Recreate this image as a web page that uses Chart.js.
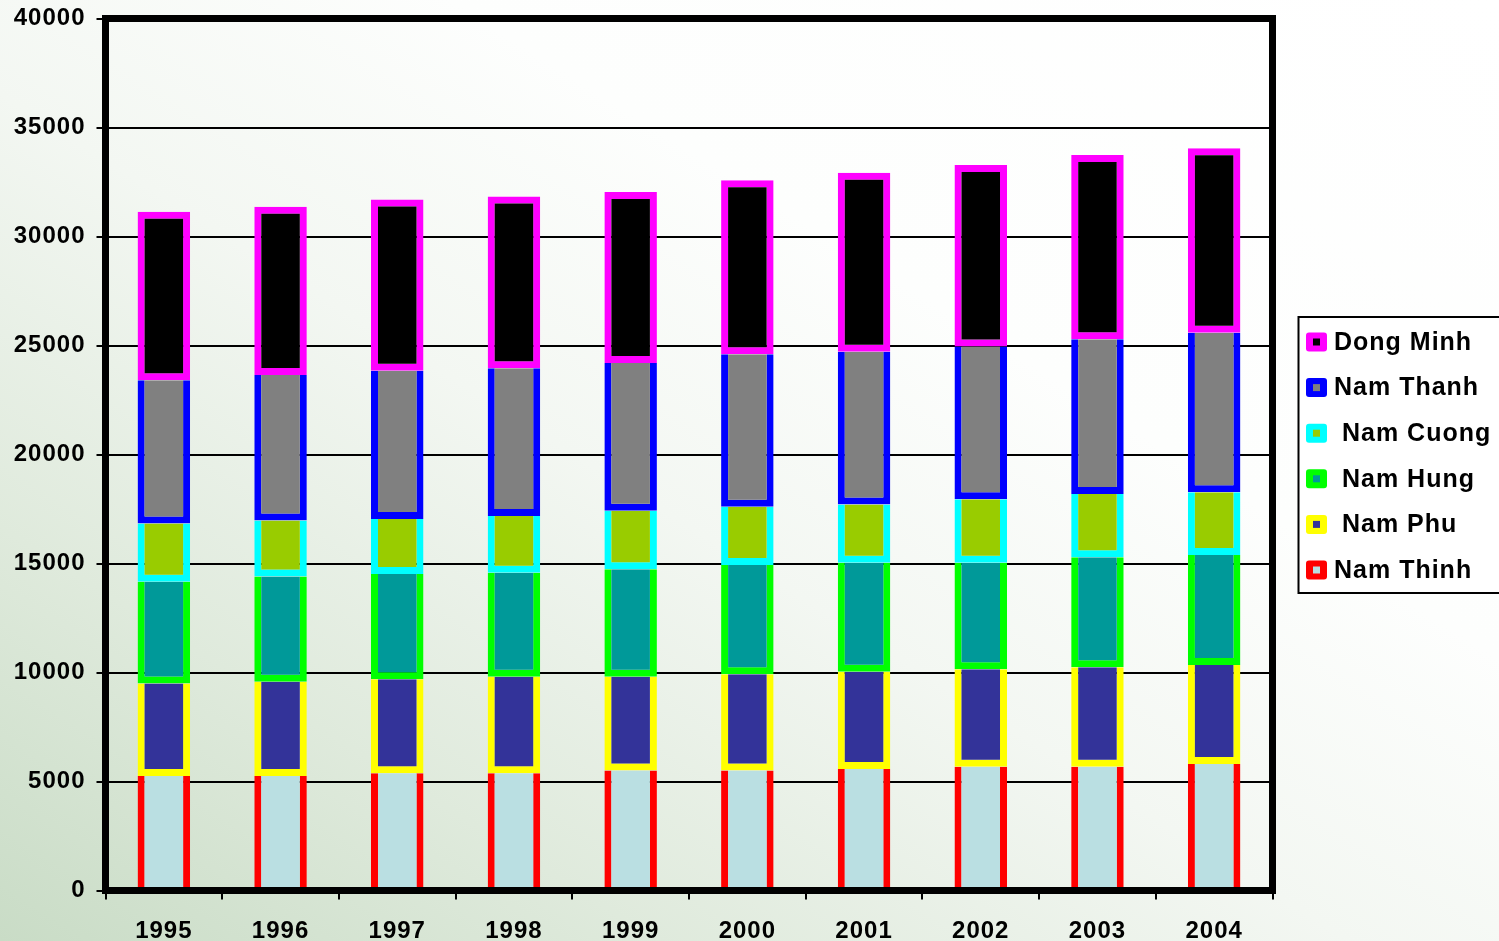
<!DOCTYPE html>
<html>
<head>
<meta charset="utf-8">
<script src="https://cdn.jsdelivr.net/npm/chart.js@4.4.1/dist/chart.umd.min.js"></script>
<style>
  html, body { margin: 0; padding: 0; }
  body {
    width: 1499px; height: 941px; overflow: hidden;
    background: linear-gradient(to top right, #c9dcc6 0%, #dfeadc 22%, #f3f7f2 45%, #fdfefd 65%, #ffffff 100%);
  }
  #wrap { position: relative; width: 1499px; height: 941px; }
</style>
</head>
<body>
<div id="wrap"><canvas id="chart" width="1499" height="941"></canvas></div>
<script>
// Years on the category axis
const years = ['1995', '1996', '1997', '1998', '1999', '2000', '2001', '2002', '2003', '2004'];

// Values per commune, stacked bottom to top
const namThinh = [5250, 5250, 5380, 5380, 5500, 5500, 5570, 5680, 5680, 5800];
const namPhu   = [4250, 4330, 4310, 4430, 4310, 4420, 4460, 4470, 4560, 4540];
const namHung  = [4660, 4820, 4830, 4770, 4930, 5010, 5000, 4890, 5050, 5050];
const namCuong = [2680, 2570, 2520, 2600, 2680, 2670, 2680, 2910, 2900, 2880];
const namThanh = [6570, 6680, 6800, 6780, 6780, 7000, 7000, 7000, 7100, 7320];
const dongMinh = [7720, 7720, 7860, 7870, 7840, 7980, 8210, 8330, 8450, 8460];

// Value axis ticks
const yTicks = [0, 5000, 10000, 15000, 20000, 25000, 30000, 35000, 40000];

const FONT = "'Liberation Sans', Arial, sans-serif";
const BW = 7;

function series(label, data, fill, edge, isTop, isBottom) {
  return {
    label: label,
    data: data,
    backgroundColor: fill,
    borderColor: edge,
    borderSkipped: false,
    borderWidth: { left: BW, right: BW, bottom: isBottom ? 0 : BW, top: isTop ? BW : 0 },
    barPercentage: 0.45,
    categoryPercentage: 1.0
  };
}

// Frame around the plot area, drawn over the bars
const framePlugin = {
  id: 'frame',
  afterDatasetsDraw(chart) {
    const { ctx, chartArea: a } = chart;
    ctx.save();
    ctx.strokeStyle = '#000';
    ctx.lineWidth = 7;
    ctx.lineJoin = 'miter';
    ctx.strokeRect(a.left, a.top, a.right - a.left, a.bottom - a.top);
    ctx.restore();
  }
};

// Boxed legend at the right, topmost series first
const boxLegend = {
  id: 'boxLegend',
  afterDraw(chart) {
    const ctx = chart.ctx;
    const x0 = 1298.5, y0 = 317, w = 220, h = 276;
    ctx.save();
    ctx.fillStyle = '#ffffff';
    ctx.fillRect(x0, y0, w, h);
    ctx.strokeStyle = '#000';
    ctx.lineWidth = 2;
    ctx.strokeRect(x0, y0, w, h);
    const sets = chart.data.datasets.slice().reverse();
    const rowH = 45.6, firstY = 342;
    ctx.font = 'bold 25px ' + FONT;
    ctx.letterSpacing = '1px';
    ctx.textBaseline = 'middle';
    ctx.textAlign = 'left';
    sets.forEach((ds, i) => {
      const cy = firstY + i * rowH;
      const sx = 1306, sw = 21, sh = 19;
      ctx.fillStyle = ds.borderColor;
      ctx.beginPath();
      if (ctx.roundRect) ctx.roundRect(sx, cy - sh / 2, sw, sh, 3); else ctx.rect(sx, cy - sh / 2, sw, sh);
      ctx.fill();
      ctx.fillStyle = ds.backgroundColor;
      ctx.fillRect(sx + sw / 2 - 3.5, cy - 3.5, 7, 7);
      ctx.fillStyle = '#000';
      ctx.fillText(ds.label, 1334, cy + 1);
    });
    ctx.restore();
  }
};

const letterSpacingPlugin = {
  id: 'spacing',
  beforeDraw(chart) { chart.ctx.letterSpacing = '1px'; }
};

new Chart(document.getElementById('chart'), {
  type: 'bar',
  data: {
    labels: years,
    datasets: [
      series('Nam Thinh', namThinh, '#badfe2', '#ff0000', false, true),
      series(' Nam Phu', namPhu, '#333399', '#ffff00', false, false),
      series(' Nam Hung', namHung, '#009999', '#00ff00', false, false),
      series(' Nam Cuong', namCuong, '#99cc00', '#00ffff', false, false),
      series('Nam Thanh', namThanh, '#808080', '#0000ff', false, false),
      series('Dong Minh', dongMinh, '#000000', '#ff00ff', true, false)
    ]
  },
  options: {
    responsive: false,
    animation: false,
    layout: { padding: { top: 18.5, right: 226.5, left: 0, bottom: 0 } },
    plugins: { legend: { display: false }, tooltip: { enabled: false } },
    scales: {
      x: {
        stacked: true,
        offset: true,
        border: { display: false },
        grid: { offset: true, drawOnChartArea: false, drawTicks: true, tickLength: 9, color: '#000', lineWidth: 2 },
        ticks: { color: '#000', font: { family: FONT, size: 24, weight: 'bold' }, padding: 17, maxRotation: 0 },
        afterFit(scale) { scale.height = 50.5; scale.paddingLeft = 0; scale.paddingRight = 0; }
      },
      y: {
        stacked: true,
        min: 0,
        max: 40000,
        border: { display: false },
        afterBuildTicks(scale) { scale.ticks = yTicks.map(v => ({ value: v })); },
        grid: { color: '#000', lineWidth: 2, drawTicks: true, tickLength: 9, tickColor: '#000' },
        ticks: {
          color: '#000', padding: 11,
          font: { family: FONT, size: 24, weight: 'bold' },
          callback: v => String(v)
        },
        afterFit(scale) { scale.width = 105.5; scale.paddingTop = 0; scale.paddingBottom = 0; }
      }
    }
  },
  plugins: [letterSpacingPlugin, framePlugin, boxLegend]
});
</script>
</body>
</html>
